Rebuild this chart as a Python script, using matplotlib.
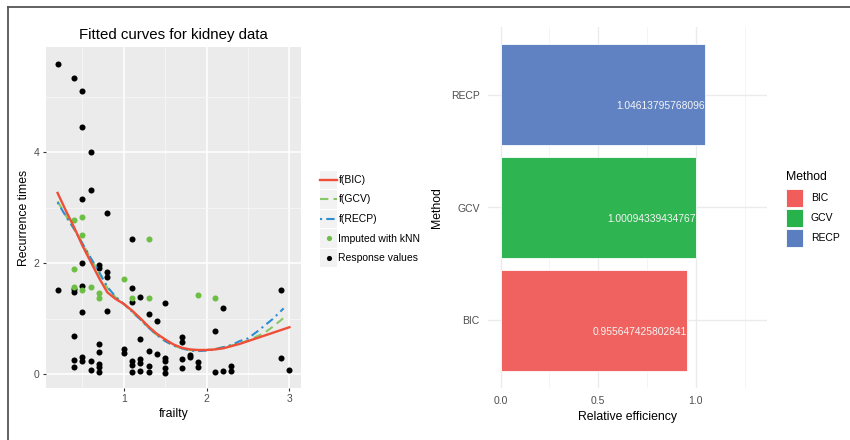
import matplotlib
matplotlib.use('Agg')
import matplotlib.pyplot as plt
from matplotlib.patches import Rectangle
from matplotlib.lines import Line2D
import numpy as np

plt.rcParams['font.family'] = ['Liberation Sans', 'DejaVu Sans']

# response values (black points)
resp_x = [0.2, 0.4, 0.5, 0.5, 0.6, 0.6, 0.5, 0.8, 1.1,
          0.5, 0.7, 0.7, 0.8, 0.8,
          0.2, 0.4, 0.4, 0.5, 0.5, 0.8,
          0.4, 0.4, 0.4, 0.5, 0.5, 0.6, 0.6,
          0.7, 0.7, 0.7, 0.7, 0.7,
          1.0, 1.0, 1.1, 1.1, 1.1, 1.1, 1.1,
          1.2, 1.2, 1.2, 1.2, 1.2,
          1.3, 1.3, 1.3, 1.3,
          1.4, 1.4,
          1.5, 1.5, 1.5, 1.5, 1.5,
          1.7, 1.7, 1.7, 1.7,
          1.8, 1.8,
          1.9, 1.9,
          2.1, 2.1, 2.2, 2.2, 2.3, 2.3,
          2.9, 2.9, 3.0]
resp_y = [5.60, 5.35, 5.11, 4.46, 4.01, 3.32, 3.16, 2.91, 2.44,
          2.01, 1.97, 1.91, 1.85, 1.76,
          1.52, 1.54, 1.48, 1.59, 1.13, 1.14,
          0.69, 0.26, 0.14, 0.31, 0.24, 0.25, 0.08,
          0.55, 0.40, 0.19, 0.13, 0.05,
          0.46, 0.39, 1.55, 1.30, 0.25, 0.17, 0.04,
          1.40, 0.63, 0.27, 0.21, 0.07,
          1.08, 0.43, 0.16, 0.04,
          0.96, 0.37,
          1.29, 0.29, 0.25, 0.11, 0.02,
          0.67, 0.59, 0.27, 0.12,
          0.35, 0.32,
          0.22, 0.14,
          0.78, 0.05, 1.19, 0.06, 0.15, 0.06,
          1.52, 0.30, 0.08]

# imputed with kNN (green points)
imp_x = [0.4, 0.5, 0.5, 1.3, 0.4, 0.4, 0.5, 0.6, 0.7, 0.7, 1.0, 1.1, 1.3, 1.9, 2.1]
imp_y = [2.78, 2.84, 2.52, 2.44, 1.90, 1.58, 1.52, 1.58, 1.47, 1.37, 1.72, 1.37, 1.37, 1.43, 1.37]

# fitted curves
bic_x = [0.2, 0.3, 0.4, 0.5, 0.6, 0.7, 0.8, 0.9, 1.0, 1.1, 1.2, 1.3, 1.4, 1.5, 1.6,
         1.7, 1.8, 1.9, 2.0, 2.1, 2.2, 2.3, 2.4, 2.5, 2.6, 2.7, 2.8, 2.9, 3.0]
bic_y = [3.27, 2.95, 2.65, 2.32, 2.03, 1.74, 1.48, 1.36, 1.27, 1.15, 1.01, 0.86, 0.73, 0.63, 0.54,
         0.48, 0.45, 0.44, 0.44, 0.45, 0.47, 0.51, 0.55, 0.60, 0.65, 0.70, 0.75, 0.80, 0.85]
gcv_x = [0.2, 0.3, 0.4, 0.5, 0.6, 0.7, 0.8, 0.9, 1.0, 1.1, 1.2, 1.3, 1.4, 1.5, 1.6,
         1.7, 1.8, 1.9, 2.0, 2.1, 2.2, 2.3, 2.4, 2.5, 2.6, 2.7, 2.8, 2.9, 2.97]
gcv_y = [3.12, 2.86, 2.62, 2.36, 2.09, 1.83, 1.56, 1.39, 1.27, 1.13, 0.99, 0.84, 0.71, 0.60, 0.52,
         0.47, 0.44, 0.43, 0.44, 0.46, 0.49, 0.52, 0.56, 0.61, 0.68, 0.75, 0.86, 0.98, 1.07]
recp_x = [0.2, 0.3, 0.4, 0.5, 0.6, 0.7, 0.8, 0.9, 1.0, 1.1, 1.2, 1.3, 1.4, 1.5, 1.6,
          1.7, 1.8, 1.9, 2.0, 2.1, 2.2, 2.3, 2.4, 2.5, 2.6, 2.7, 2.8, 2.93]
recp_y = [3.10, 2.85, 2.62, 2.36, 2.10, 1.85, 1.58, 1.40, 1.27, 1.13, 0.99, 0.84, 0.71, 0.60, 0.52,
          0.47, 0.43, 0.42, 0.43, 0.45, 0.49, 0.53, 0.60, 0.65, 0.76, 0.88, 1.00, 1.19]

# relative efficiency
methods = ['BIC', 'GCV', 'RECP']
efficiency = [0.955647425802841, 1.00094339434767, 1.04613795768096]
method_colors = ['#F05D5A', '#27B24B', '#5B7EC0']

col_bic = '#F04E36'
col_gcv = '#86C866'
col_recp = '#2B8ED1'
col_imp = '#6DBE45'

W, H = 850, 440
fig = plt.figure(figsize=(W / 100, H / 100), dpi=100)

def frac(x0, y0, x1, y1):
    return [x0 / W, 1 - y1 / H, (x1 - x0) / W, (y1 - y0) / H]

# ---- left panel (ggplot grey theme) ----
ax = fig.add_axes(frac(46, 47, 301, 388))
ax.set_facecolor('#EBEBEB')
for s in ax.spines.values():
    s.set_visible(False)
ax.set_xlim(0.06, 3.14)
ax.set_ylim(-0.245, 5.9)
ax.set_xticks([1, 2, 3])
ax.set_yticks([0, 2, 4])
ax.set_xticks([0.5, 1.5, 2.5], minor=True)
ax.set_yticks([1, 3, 5], minor=True)
ax.grid(True, which='major', color='white', lw=1.1)
ax.grid(True, which='minor', color='#F6F6F6', lw=0.6)
ax.set_axisbelow(True)
ax.tick_params(which='major', length=2.5, width=0.8, color='#333333', labelsize=7.5,
               labelcolor='#4D4D4D', pad=2)
ax.tick_params(which='minor', length=0)

ax.scatter(resp_x, resp_y, s=19, color='black', lw=0, zorder=2)
ax.scatter(imp_x, imp_y, s=19, color=col_imp, lw=0, zorder=2)
ax.plot(gcv_x, gcv_y, color=col_gcv, lw=1.5, dashes=(4, 2.5), zorder=3)
ax.plot(recp_x, recp_y, color=col_recp, lw=1.5, dashes=(1, 2, 4, 2), zorder=3)
ax.plot(bic_x, bic_y, color=col_bic, lw=1.7, zorder=4)

ax.set_title('Fitted curves for kidney data', fontsize=10.8, pad=6)
ax.set_xlabel('frailty', fontsize=8.8, labelpad=3)
ax.set_ylabel('Recurrence times', fontsize=8.8, labelpad=3)

# ---- right panel (minimal theme) ----
ax2 = fig.add_axes(frac(488, 27, 767, 388))
for s in ax2.spines.values():
    s.set_visible(False)
pos = np.arange(1, len(methods) + 1)
ax2.barh(pos, efficiency, height=0.9, color=method_colors, edgecolor='#FFFFFF', lw=0.6,
         alpha=0.97, zorder=2)
for p, v in zip(pos, efficiency):
    ax2.text(v, p - 0.1, str(v), ha='right', va='center', color='#F4F4F4',
             fontsize=7.4, zorder=3)
ax2.set_xlim(-0.065, 1.365)
ax2.set_ylim(0.4, 3.6)
ax2.set_yticks(pos)
ax2.set_yticklabels(methods)
ax2.set_xticks([0, 0.5, 1.0])
ax2.set_xticklabels(['0.0', '0.5', '1.0'])
ax2.set_xticks([0.25, 0.75, 1.25], minor=True)
ax2.grid(True, which='major', color='#EBEBEB', lw=1.0)
ax2.grid(True, which='minor', axis='x', color='#F3F3F3', lw=0.6)
ax2.set_axisbelow(True)
ax2.tick_params(which='both', length=0, labelsize=7.5, labelcolor='#4D4D4D', pad=6)
ax2.set_xlabel('Relative efficiency', fontsize=8.8, labelpad=3)
ax2.set_ylabel('Method', fontsize=8.8, labelpad=6)

# ---- overlay for legends and frame ----
ov = fig.add_axes([0, 0, 1, 1])
ov.set_xlim(0, W)
ov.set_ylim(H, 0)
ov.axis('off')
ov.patch.set_alpha(0)

# left legend
rows = [180, 199.5, 219, 238.5, 258]
labels = ['f(BIC)', 'f(GCV)', 'f(RECP)', 'Imputed with kNN', 'Response values']
for i, (yc, lab) in enumerate(zip(rows, labels)):
    ov.add_patch(Rectangle((320, yc - 9.25), 17.3, 18.5, color='#F2F2F2', lw=0))
    ov.text(338.5, yc, lab, fontsize=7.5, va='center', ha='left')
ov.plot([320.5, 337], [rows[0], rows[0]], color=col_bic, lw=1.7)
ov.plot([320.5, 337], [rows[1], rows[1]], color=col_gcv, lw=1.5, dashes=(4, 2.5))
ov.plot([320.5, 337], [rows[2], rows[2]], color=col_recp, lw=1.5, dashes=(1, 2, 4, 2))
ov.scatter([328.6], [rows[3]], s=14, color=col_imp, lw=0)
ov.scatter([328.6], [rows[4]], s=14, color='black', lw=0)

# right legend
ov.text(786, 177, 'Method', fontsize=8.8, va='center', ha='left')
for yc, lab, c in zip([198, 218, 238], methods, method_colors):
    ov.add_patch(Rectangle((786, yc - 9), 17.5, 18, facecolor=c, edgecolor='white', lw=0.6))
    ov.text(811, yc, lab, fontsize=7.5, va='center', ha='left')

# frame lines (top and left)
fig.add_artist(Line2D([8 / W, 8 / W], [0, 1 - 7 / H], color='#555555', lw=1.3))
fig.add_artist(Line2D([8 / W, 1], [1 - 7 / H, 1 - 7 / H], color='#555555', lw=1.3))

fig.savefig('out.png', dpi=100)
